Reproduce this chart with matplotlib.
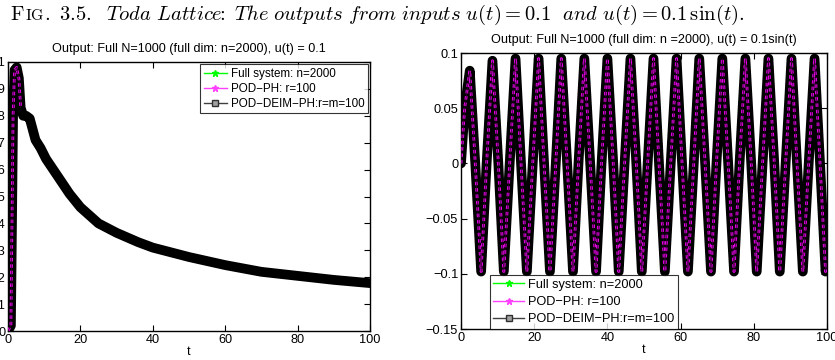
import matplotlib
matplotlib.use('Agg')
import matplotlib.pyplot as plt
from matplotlib.lines import Line2D
from matplotlib.offsetbox import TextArea, HPacker, AnchoredOffsetbox

plt.rcParams['font.family'] = ['Liberation Sans', 'DejaVu Sans']
plt.rcParams['mathtext.fontset'] = 'cm'

# left panel: step input u(t) = 0.1
step_t = [0, 0.8, 1.1, 1.4, 1.8, 2.4, 3.0, 3.5, 4.2, 5.0, 6.0, 6.8, 7.6, 9.0, 10.5, 12.0,
          14.0, 17.0, 20.0, 25.0, 30.0, 36.0, 40.0, 50.0, 60.0, 70.0, 80.0, 90.0, 100.0]
step_y = [0, 0.002, 0.04, 0.08, 0.097, 0.098, 0.094, 0.083, 0.080, 0.080, 0.079, 0.075, 0.071,
          0.068, 0.064, 0.061, 0.057, 0.051, 0.046, 0.040, 0.0365, 0.033, 0.031, 0.0275,
          0.0245, 0.022, 0.0205, 0.019, 0.0178]

sin_t = [0, 1.0, 2.4, 3.9, 5.5, 7.0, 8.6, 10.2, 11.7, 13.3, 14.9, 16.4, 18.0, 19.6, 21.2,
         22.7, 24.3, 25.9, 27.4, 29.0, 30.6, 32.1, 33.7, 35.3, 36.9, 38.4, 40.0, 41.6,
         43.1, 44.7, 46.3, 47.9, 49.4, 51.0, 52.6, 54.1, 55.7, 57.3, 58.9, 60.4, 62.0,
         63.6, 65.1, 66.7, 68.3, 69.8, 71.4, 73.0, 74.6, 76.1, 77.7, 79.3, 80.8, 82.4,
         84.0, 85.6, 87.1, 88.7, 90.3, 91.8, 93.4, 95.0, 96.6, 98.1, 99.6, 100.0]
sin_y = [0, 0.05, 0.084, 0, -0.098, 0, 0.093, 0, -0.098, 0, 0.095, 0, -0.098, 0, 0.095,
         0, -0.098, 0, 0.095, 0, -0.098, 0, 0.095, 0, -0.098, 0, 0.095, 0,
         -0.098, 0, 0.095, 0, -0.098, 0, 0.095, 0, -0.098, 0, 0.095, 0, -0.098,
         0, 0.095, 0, -0.098, 0, 0.095, 0, -0.098, 0, 0.095, 0, -0.098, 0,
         0.095, 0, -0.098, 0, 0.095, 0, -0.098, 0, 0.095, 0, -0.098, -0.09]

labels = ['Full system: n=2000', 'POD\u2212PH: r=100', 'POD\u2212DEIM\u2212PH:r=m=100']
xticks = [0, 20, 40, 60, 80, 100]
step_yticks = [0, 0.01, 0.02, 0.03, 0.04, 0.05, 0.06, 0.07, 0.08, 0.09, 0.1]
step_yticklabels = ['0', '0.01', '0.02', '0.03', '0.04', '0.05', '0.06', '0.07', '0.08', '0.09', '0.1']
sin_yticks = [-0.15, -0.1, -0.05, 0, 0.05, 0.1]
sin_yticklabels = ['\u22120.15', '\u22120.1', '\u22120.05', '0', '0.05', '0.1']

W, H = 835, 360
fig = plt.figure(figsize=(W / 100, H / 100), dpi=100)

def px(l, r, top, bot):
    return [l / W, 1 - bot / H, (r - l) / W, (bot - top) / H]

axL = fig.add_axes(px(8, 370, 62, 331))
axR = fig.add_axes(px(461, 827, 53, 329))


def draw_band(ax, t, y, n_magenta):
    # dense markers of the original show as a thick black band
    ax.plot(t, y, color='k', lw=7, solid_joinstyle='round', solid_capstyle='round', zorder=3)
    ax.plot(t[:n_magenta], y[:n_magenta], color='#e000e0', lw=2.0,
            ls=(0, (1.3, 1.0)), zorder=4)
    ax.plot(t[:n_magenta], y[:n_magenta], color='#300030', lw=0.5, zorder=4)


draw_band(axL, step_t, step_y, 8)
draw_band(axR, sin_t, sin_y, len(sin_t))

handles = [
    Line2D([], [], color='#00ff00', marker='*', markersize=5, lw=1),
    Line2D([], [], color='#ff40ff', marker='*', markersize=5, lw=1),
    Line2D([], [], color='#404040', marker='s', markersize=4, mfc='#a0a0a0', mec='#303030', lw=1),
]

for ax in (axL, axR):
    ax.set_xlim(0, 100)
    ax.set_xticks(xticks)
    ax.set_xticklabels([str(v) for v in xticks])
    ax.tick_params(direction='in', top=True, right=True, length=4, width=0.8,
                   labelsize=9.2, pad=2)
    for s in ax.spines.values():
        s.set_linewidth(1.0)
    ax.set_xlabel('t', fontsize=9, labelpad=0)

legend_kw = dict(frameon=True, fancybox=False, edgecolor='k',
                 handletextpad=0.3, borderpad=0.3)

axL.set_ylim(0, 0.1)
axL.set_yticks(step_yticks)
axL.set_yticklabels(step_yticklabels)
axL.set_title('Output: Full N=1000 (full dim: n=2000), u(t) = 0.1', fontsize=9.1, pad=7)
axL.legend(handles, labels, loc='upper right', fontsize=8.4, borderaxespad=0.2,
           labelspacing=0.25, handlelength=2.0, **legend_kw).get_frame().set_linewidth(0.8)

axR.set_ylim(-0.15, 0.1)
axR.set_yticks(sin_yticks)
axR.set_yticklabels(sin_yticklabels)
axR.set_title('Output: Full N=1000 (full dim: n =2000), u(t) = 0.1sin(t)', fontsize=9.1, pad=7)
axR.legend(handles, labels, loc='lower left', bbox_to_anchor=(0.078, 0.0), fontsize=9.2,
           borderaxespad=0.0, labelspacing=0.4, handlelength=2.4,
           **legend_kw).get_frame().set_linewidth(0.8)

# caption with small caps "FIG."
big, small = 14.8, 11.3
parts = [
    TextArea(r'$\mathrm{F}$', textprops=dict(size=big)),
    TextArea(r'$\mathrm{IG}$', textprops=dict(size=small)),
    TextArea(r'$\mathrm{.\ 3.5.}\ \ \mathit{Toda\ Lattice}\!\!:\ \mathit{The\ outputs\ from\ inputs}\ '
             r'u(t)=0.1\ \ \mathit{and}\ u(t)=0.1\,\sin(t).$', textprops=dict(size=big)),
]
cap = HPacker(children=parts, align='baseline', pad=0, sep=0)
fig.add_artist(AnchoredOffsetbox(loc='upper left', child=cap, frameon=False, pad=0,
                                 borderpad=0, bbox_to_anchor=(10 / W, 1 - 3 / H),
                                 bbox_transform=fig.transFigure))

fig.savefig('out.png', dpi=100)
